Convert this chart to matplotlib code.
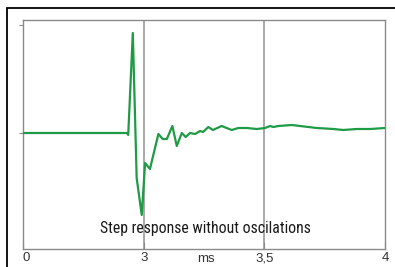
import matplotlib
matplotlib.use("Agg")
import matplotlib.pyplot as plt
from matplotlib.patches import Rectangle
from matplotlib.transforms import ScaledTranslation

# Time (ms, axis drawn from 2.5 which is labelled "0") and response values
time_ms = [2.500, 2.931, 2.936, 2.955, 2.971, 2.992, 3.006, 3.026, 3.061, 3.079,
           3.096, 3.119, 3.137, 3.158, 3.174, 3.192, 3.213, 3.234, 3.246, 3.268,
           3.287, 3.323, 3.344, 3.365, 3.392, 3.427, 3.469, 3.503, 3.524, 3.537,
           3.558, 3.614, 3.648, 3.717, 3.786, 3.827, 3.883, 3.938, 4.000]
response = [0.00, 0.00, -0.02, 1.00, -0.45, -0.82, -0.30, -0.36, -0.01, -0.06,
            -0.06, 0.07, -0.13, 0.00, -0.04, 0.00, -0.01, 0.02, 0.01, 0.06,
            0.03, 0.07, 0.05, 0.03, 0.05, 0.05, 0.04, 0.05, 0.07, 0.06,
            0.07, 0.08, 0.07, 0.05, 0.04, 0.03, 0.04, 0.04, 0.05]

x_ticks = [2.5, 3.0, 3.5, 4.0]
x_tick_labels = ["0", "3", "3,5", "4"]
grid_x = [3.0, 3.5]
title_text = "Step response without oscilations"
unit_label = "ms"

W, H = 395, 267
fig = plt.figure(figsize=(W / 100, H / 100), dpi=100)
fig.patch.set_facecolor("white")

# outer black frame (top/left visible)
fig.patches.append(Rectangle((7 / W, -0.1), 1.2, (H - 8) / H + 0.1,
                             transform=fig.transFigure, fill=False,
                             edgecolor="black", linewidth=1.3))

ax = fig.add_axes([23 / W, 1 - 249 / H, (385 - 23) / W, (249 - 20) / H])
ax.set_xlim(2.5, 4.0)
ax.set_ylim(-1.16, 1.13)

for gx in grid_x:
    ax.axvline(gx, color="#9a9a9a", linewidth=1.2, zorder=1)

ax.plot(time_ms, response, color="#1f9a45", linewidth=1.6, zorder=3)

for s in ax.spines.values():
    s.set_color("#8a8a8a")
    s.set_linewidth(1.0)

ax.set_xticks(x_ticks)
ax.set_xticklabels(x_tick_labels, fontsize=9.5, color="#333333",
                   family="Liberation Sans")
ax.tick_params(axis="x", direction="in", length=5, color="#8a8a8a", pad=2.5)
ax.set_yticks([0.0, 1.08])
ax.set_yticklabels([])
ax.tick_params(axis="y", direction="out", length=3, color="#8a8a8a")

# nudge the "0" label right, as in the reference
lbl0 = ax.get_xticklabels()[0]
lbl0.set_transform(lbl0.get_transform() + ScaledTranslation(3 / 100, 0, fig.dpi_scale_trans))

ax.annotate(unit_label, xy=(3.26, 0), xycoords=("data", "axes fraction"),
            xytext=(0, -3), textcoords="offset points",
            ha="center", va="top", fontsize=9.5, color="#333333",
            family="Liberation Sans")

ax.text(3.255, -0.96, title_text, ha="center", va="center", fontsize=11.3,
        color="#1a1a1a", family=["Roboto Condensed", "DejaVu Sans"])

fig.savefig("out.png", dpi=100, facecolor="white")
